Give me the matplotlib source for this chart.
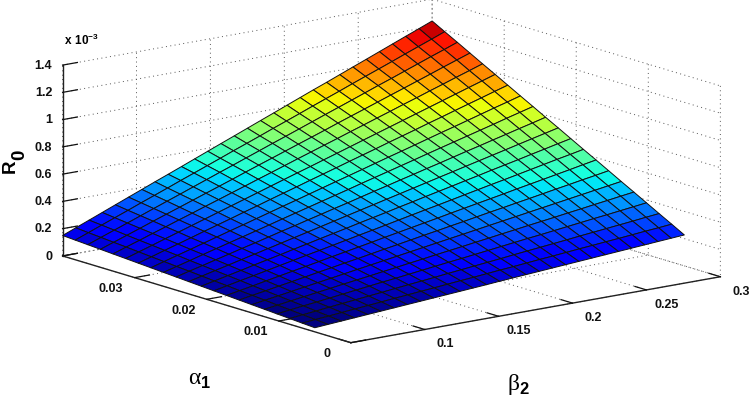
import matplotlib
matplotlib.use('Agg')
import matplotlib.pyplot as plt
import numpy as np

alpha_1 = [0.005, 0.00675, 0.0085, 0.01025, 0.012, 0.01375, 0.0155, 0.01725, 0.019, 0.02075, 0.0225,
           0.02425, 0.026, 0.02775, 0.0295, 0.03125, 0.033, 0.03475, 0.0365, 0.03825, 0.04]
beta_2 = [0.05, 0.0589, 0.0679, 0.0768, 0.0857, 0.0946, 0.1036, 0.1125, 0.1214, 0.1304, 0.1393, 0.1482, 0.1571,
          0.1661, 0.175, 0.1839, 0.1929, 0.2018, 0.2107, 0.2196, 0.2286, 0.2375, 0.2464, 0.2554, 0.2643, 0.2732,
          0.2821, 0.2911, 0.3]

# R0 in units of 1e-6, one row per alpha_1 value, one column per beta_2 value
r0_table = [
    [30, 37, 44, 51, 58, 65, 72, 79, 86, 93, 100, 107, 114, 121, 129, 136, 143, 150, 157, 164, 171, 178, 185, 192, 199, 206, 213, 220, 227],
    [36, 45, 53, 62, 71, 79, 88, 97, 105, 114, 122, 131, 140, 148, 157, 166, 174, 183, 192, 200, 209, 218, 226, 235, 243, 252, 261, 269, 278],
    [42, 52, 62, 73, 83, 93, 103, 113, 124, 134, 144, 154, 165, 175, 185, 195, 205, 216, 226, 236, 246, 256, 267, 277, 287, 297, 307, 318, 328],
    [48, 60, 72, 83, 95, 107, 119, 131, 143, 154, 166, 178, 190, 202, 213, 225, 237, 249, 261, 273, 284, 296, 308, 320, 332, 343, 355, 367, 379],
    [54, 67, 81, 94, 108, 121, 135, 148, 161, 175, 188, 202, 215, 229, 242, 255, 269, 282, 296, 309, 323, 336, 349, 363, 376, 390, 403, 417, 430],
    [60, 75, 90, 105, 120, 135, 150, 165, 180, 195, 210, 225, 240, 255, 270, 285, 300, 315, 330, 345, 360, 375, 390, 405, 420, 435, 450, 465, 480],
    [66, 83, 99, 116, 132, 149, 166, 182, 199, 215, 232, 249, 265, 282, 299, 315, 332, 348, 365, 382, 398, 415, 431, 448, 465, 481, 498, 514, 531],
    [72, 90, 108, 127, 145, 163, 181, 199, 218, 236, 254, 272, 291, 309, 327, 345, 363, 382, 400, 418, 436, 454, 473, 491, 509, 527, 545, 564, 582],
    [78, 98, 118, 137, 157, 177, 197, 217, 236, 256, 276, 296, 315, 335, 355, 375, 395, 414, 434, 454, 474, 494, 513, 533, 553, 573, 593, 612, 632],
    [84, 105, 127, 148, 170, 191, 212, 234, 255, 277, 298, 319, 341, 362, 383, 405, 426, 448, 469, 490, 512, 533, 555, 576, 597, 619, 640, 662, 683],
    [90, 113, 136, 159, 182, 205, 228, 251, 274, 297, 320, 343, 366, 389, 412, 435, 458, 481, 504, 527, 550, 573, 596, 619, 642, 665, 688, 711, 734],
    [96, 121, 145, 170, 194, 219, 243, 268, 293, 317, 342, 366, 391, 415, 440, 465, 489, 514, 538, 563, 587, 612, 637, 661, 686, 710, 735, 759, 784],
    [102, 128, 154, 181, 207, 233, 259, 285, 311, 338, 364, 390, 416, 442, 468, 495, 521, 547, 573, 599, 626, 652, 678, 704, 730, 756, 783, 809, 835],
    [108, 136, 164, 191, 219, 247, 275, 302, 330, 358, 386, 413, 441, 469, 497, 524, 552, 580, 608, 635, 663, 691, 719, 746, 774, 802, 830, 857, 885],
    [114, 143, 173, 202, 231, 261, 290, 319, 349, 378, 408, 437, 466, 496, 525, 554, 584, 613, 642, 672, 701, 730, 760, 789, 819, 848, 877, 907, 936],
    [120, 151, 182, 213, 244, 275, 306, 337, 368, 399, 430, 461, 492, 523, 553, 584, 615, 646, 677, 708, 739, 770, 801, 832, 863, 894, 925, 956, 987],
    [126, 159, 191, 224, 256, 289, 321, 354, 386, 419, 451, 484, 516, 549, 582, 614, 647, 679, 712, 744, 777, 809, 842, 874, 907, 939, 972, 1004, 1037],
    [132, 166, 200, 234, 269, 303, 337, 371, 405, 439, 473, 508, 542, 576, 610, 644, 678, 712, 747, 781, 815, 849, 883, 917, 951, 985, 1020, 1054, 1088],
    [138, 174, 210, 245, 281, 317, 353, 388, 424, 460, 496, 531, 567, 603, 639, 674, 710, 746, 782, 817, 853, 889, 925, 960, 996, 1032, 1068, 1103, 1139],
    [144, 181, 219, 256, 293, 331, 368, 405, 443, 480, 517, 554, 592, 629, 666, 704, 741, 778, 816, 853, 890, 928, 965, 1002, 1039, 1077, 1114, 1151, 1189],
    [150, 189, 228, 267, 306, 345, 384, 423, 461, 500, 539, 578, 617, 656, 695, 734, 773, 812, 851, 890, 928, 967, 1006, 1045, 1084, 1123, 1162, 1201, 1240],
]

beta_ticks = [0.05, 0.1, 0.15, 0.2, 0.25, 0.3]
beta_labels = ['', '0.1', '0.15', '0.2', '0.25', '0.3']
alpha_ticks = [0, 0.01, 0.02, 0.03, 0.04]
alpha_labels = ['0', '0.01', '0.02', '0.03', '']
r0_ticks = [0, 0.2, 0.4, 0.6, 0.8, 1, 1.2, 1.4]
r0_labels = ['0', '0.2', '0.4', '0.6', '0.8', '1', '1.2', '1.4']

plt.rcParams['font.family'] = ['Liberation Sans', 'DejaVu Sans']
plt.rcParams['font.weight'] = 'bold'
plt.rcParams['mathtext.fontset'] = 'custom'
plt.rcParams['mathtext.rm'] = 'Liberation Serif:weight=normal'
plt.rcParams['mathtext.bf'] = 'Liberation Sans:bold'
plt.rcParams['grid.color'] = '#555555'
plt.rcParams['grid.linewidth'] = 0.7
plt.rcParams['grid.linestyle'] = (0, (1, 3.5))

fig = plt.figure(figsize=(7.49, 4.02), dpi=100)
ax = fig.add_axes([46.4 / 749, -115 / 402, 672 / 749, 672 / 402], projection='3d', proj_type='ortho')
ax.patch.set_alpha(0)
ax.view_init(elev=13.4, azim=-127.6)
ax.set_box_aspect((466, 472, 196), zoom=1.0)

B, A = np.meshgrid(beta_2, alpha_1)
R = np.array(r0_table) / 1000.0
cmap = plt.get_cmap('jet', 64)
colors = cmap((R - R.min()) / (R.max() - R.min()))
ax.plot_surface(B, A, R, rstride=1, cstride=1, facecolors=colors, shade=False,
                edgecolor='#111111', linewidth=0.7, antialiased=True)

ax.set_xlim(0.05, 0.3, view_margin=0)
ax.set_ylim(0, 0.04, view_margin=0)
ax.set_zlim(0, 1.4, view_margin=0)
ax.set_xticks(beta_ticks, beta_labels)
ax.set_yticks(alpha_ticks, alpha_labels)
ax.set_zticks(r0_ticks, r0_labels)

for axis in (ax.xaxis, ax.yaxis, ax.zaxis):
    axis.set_pane_color((1, 1, 1, 0))
    axis.pane.set_edgecolor('none')
    axis.line.set_color('#222222')
    axis.line.set_linewidth(1.0)
    axis._axinfo['tick']['inward_factor'] = 0
    axis._axinfo['tick']['outward_factor'] = 0.5
    axis._axinfo['tick']['linewidth'] = {True: 0.9, False: 0.9}
    axis._axinfo['tick']['color'] = '#222222'
    for tick in axis.get_major_ticks():
        tick.label1.set_va('bottom')
for tick in ax.zaxis.get_major_ticks():
    tick.label1.set_va('center')
    tick.label1.set_ha('right')
ax.tick_params(labelsize=9, colors='#111111')
ax.tick_params(axis='x', pad=10)
ax.tick_params(axis='y', pad=8)
ax.tick_params(axis='z', pad=-4)

fig.text(10 / 749, 1 - 166.5 / 402, 'R', rotation=90, fontsize=13.5, ha='center', va='center')
fig.text(19.5 / 749, 1 - 155 / 402, '0', rotation=90, fontsize=13.5, ha='center', va='center')
fig.text(200 / 749, 1 - 380 / 402, r'$\mathrm{\alpha}_{\mathbf{1}}$', fontsize=17, ha='center', va='center')
fig.text(518 / 749, 1 - 385 / 402, r'$\mathrm{\beta}_{\mathbf{2}}$', fontsize=17, ha='center', va='center')
fig.text(64 / 749, 1 - 40 / 402, r'$\mathbf{x\ 10^{-3}}$', fontsize=8.5, ha='left', va='center')

fig.savefig('out.png', dpi=100)
